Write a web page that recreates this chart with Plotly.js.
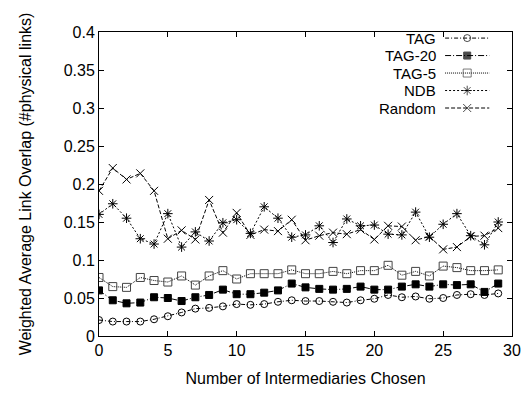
<!DOCTYPE html>
<html>
<head>
<meta charset="utf-8">
<script src="https://cdn.plot.ly/plotly-3.0.1.min.js"></script>
<style>html,body{margin:0;padding:0;background:#fff;}#chart{width:531px;height:394px;}</style>
</head>
<body>
<div id="chart"></div>
<script>
const intermediaries = [0,1,2,3,4,5,6,7,8,9,10,11,12,13,14,15,16,17,18,19,20,21,22,23,24,25,26,27,28,29];
const seriesNames = ["TAG", "TAG-20", "TAG-5", "NDB", "Random"];
const tag = [0.021,0.019,0.019,0.019,0.022,0.026,0.031,0.036,0.037,0.039,0.042,0.041,0.042,0.045,0.047,0.046,0.046,0.045,0.044,0.047,0.049,0.054,0.051,0.052,0.049,0.050,0.054,0.055,0.054,0.056];
const tag20 = [0.060,0.047,0.043,0.044,0.051,0.050,0.046,0.051,0.054,0.061,0.055,0.055,0.057,0.060,0.069,0.064,0.062,0.061,0.062,0.065,0.061,0.061,0.065,0.068,0.065,0.068,0.067,0.068,0.058,0.069];
const tag5 = [0.077,0.065,0.064,0.077,0.073,0.071,0.079,0.067,0.079,0.086,0.075,0.082,0.082,0.082,0.087,0.082,0.082,0.085,0.082,0.086,0.086,0.093,0.080,0.085,0.079,0.092,0.090,0.086,0.086,0.087];
const ndb = [0.160,0.174,0.155,0.128,0.121,0.161,0.117,0.137,0.125,0.149,0.153,0.135,0.170,0.155,0.130,0.133,0.145,0.123,0.154,0.145,0.146,0.134,0.133,0.163,0.130,0.147,0.161,0.132,0.120,0.150];
const random = [0.191,0.221,0.206,0.214,0.191,0.128,0.139,0.127,0.179,0.136,0.162,0.133,0.140,0.138,0.153,0.126,0.132,0.136,0.134,0.140,0.127,0.145,0.144,0.126,0.131,0.114,0.117,0.131,0.132,0.142];
const xTickVals = [0,5,10,15,20,25,30];
const yTickVals = [0,0.05,0.1,0.15,0.2,0.25,0.3,0.35,0.4];
const yTickText = ["0","0.05","0.1","0.15","0.2","0.25","0.3","0.35","0.4"];

const values = [tag, tag20, tag5, ndb, random];
const styles = [
  {dash: "4px,2px,1px,2px", symbol: "circle-open", color: "#000", mcolor: "#000", size: 7},
  {dash: "6px,2px,1px,2px", symbol: "square", color: "#000", mcolor: "#000", size: 7},
  {dash: "1px,1px", symbol: "square-open", color: "#000", mcolor: "#444", size: 8},
  {dash: "2px,2px", symbol: "asterisk-open", color: "#000", mcolor: "#000", size: 8},
  {dash: "4px,2px", symbol: "x-thin-open", color: "#000", mcolor: "#000", size: 8}
];

const traces = [];
values.forEach((vals, i) => {
  const s = styles[i];
  traces.push({
    x: intermediaries, y: vals, type: "scatter", mode: "lines+markers", name: seriesNames[i],
    line: {color: s.color, width: 1, dash: s.dash},
    marker: {symbol: s.symbol, size: s.size, color: s.mcolor, line: {color: s.mcolor, width: 1}},
    showlegend: false, hoverinfo: "skip"
  });
});

// custom legend: right-aligned labels with the line sample to their right
const legX0 = 0.838, legX1 = 0.945, legTextX = 0.818;
const legStep = 0.0575, legMid = 0.865;
const fam = "Liberation Sans, Arial, sans-serif";
const annotations = [];
seriesNames.forEach((nm, i) => {
  const s = styles[i];
  const yy = legMid + (2 - i) * legStep;
  traces.push({
    x: [legX0, (legX0 + legX1) / 2, legX1], y: [yy, yy, yy], xaxis: "x2", yaxis: "y2",
    type: "scatter", mode: "lines+markers", showlegend: false, hoverinfo: "skip",
    line: {color: s.color, width: 1, dash: s.dash},
    marker: {symbol: s.symbol, size: [0, s.size, 0], color: s.mcolor, line: {color: s.mcolor, width: [0, 1, 0]}}
  });
  annotations.push({
    xref: "paper", yref: "paper", x: legTextX, y: yy, xanchor: "right", yanchor: "middle",
    text: nm, showarrow: false, borderpad: 0, font: {family: fam, size: 15, color: "#000"}
  });
});

const font = {family: fam, size: 16, color: "#000"};
const layout = {
  width: 531, height: 394,
  margin: {l: 99, r: 19, t: 32, b: 58},
  paper_bgcolor: "#fff", plot_bgcolor: "#fff",
  font: font,
  showlegend: false,
  xaxis: {
    range: [0, 30], tickvals: xTickVals, ticks: "inside", ticklen: 5, tickcolor: "#000",
    showline: true, linecolor: "#000", linewidth: 1, mirror: "ticks", showgrid: false, zeroline: false,
    tickfont: font, title: {text: "Number of Intermediaries Chosen", font: font, standoff: 14}
  },
  yaxis: {
    range: [0, 0.4], tickvals: yTickVals, ticktext: yTickText, ticks: "inside", ticklen: 5, tickcolor: "#000",
    showline: true, linecolor: "#000", linewidth: 1, mirror: "ticks", showgrid: false, zeroline: false,
    tickfont: font, title: {text: "Weighted Average Link Overlap (#physical links)", font: font, standoff: 28}
  },
  xaxis2: {overlaying: "x", range: [0, 1], visible: false, fixedrange: true},
  yaxis2: {overlaying: "y", range: [0, 1], visible: false, fixedrange: true},
  annotations: annotations
};

Plotly.newPlot("chart", traces, layout, {staticPlot: true, displayModeBar: false});
</script>
</body>
</html>
